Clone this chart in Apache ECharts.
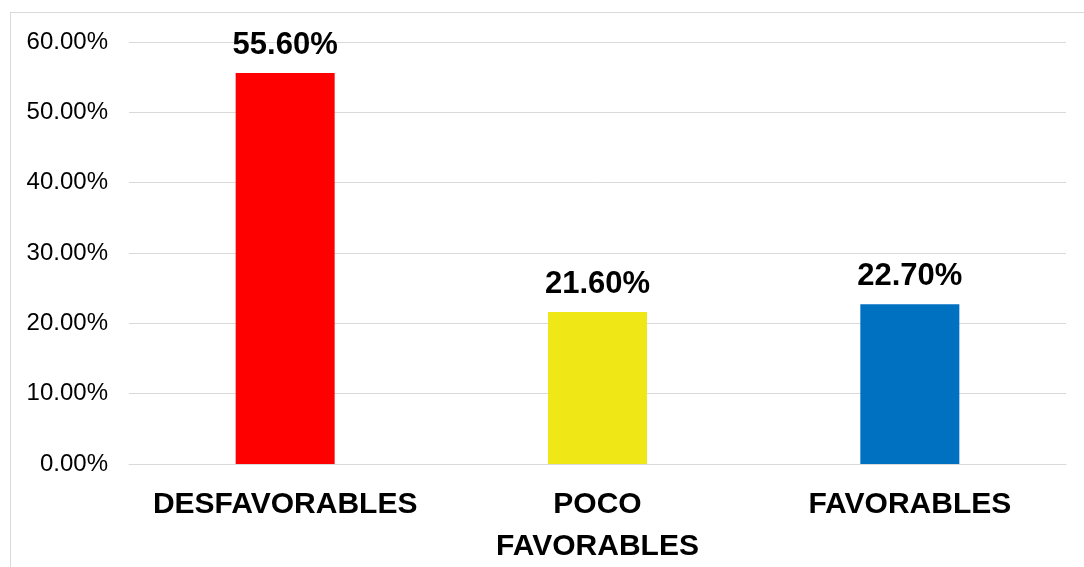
<!DOCTYPE html>
<html>
<head>
<meta charset="utf-8">
<script src="https://cdn.jsdelivr.net/npm/echarts@6/dist/echarts.min.js"></script>
<style>
  html, body { margin: 0; padding: 0; background: #fff; }
  .frame {
    position: absolute;
    left: 10px;
    top: 12px;
    width: 1100px;
    height: 600px;
    border-left: 1px solid #d9d9d9;
    border-top: 1px solid #d9d9d9;
  }
  #main { position: absolute; left: 0; top: 0; width: 1084px; height: 567px; }
</style>
</head>
<body>
<div class="frame"></div>
<div id="main"></div>
<script>
const categories = ['DESFAVORABLES', 'POCO\nFAVORABLES', 'FAVORABLES']
const values = [55.6, 21.6, 22.7]
const barColors = ['#ff0000', '#f0e816', '#0070c0']
const yTicks = [0, 10, 20, 30, 40, 50, 60]

const chart = echarts.init(document.getElementById('main'))

const fmt = v => v.toFixed(2) + '%'

chart.setOption({
  animation: false,
  grid: {
    left: 129,
    right: 18,
    top: 42,
    bottom: 103,
    outerBoundsMode: 'none',
    containLabel: false
  },
  xAxis: {
    type: 'category',
    data: categories,
    axisTick: { show: false },
    axisLine: { lineStyle: { color: '#d9d9d9', width: 1 } },
    axisLabel: {
      margin: 20,
      fontFamily: 'Liberation Sans, Arial, sans-serif',
      fontWeight: 'bold',
      fontSize: 30,
      lineHeight: 42,
      color: '#000',
      interval: 0
    }
  },
  yAxis: {
    type: 'value',
    min: yTicks[0],
    max: yTicks[yTicks.length - 1],
    interval: 10,
    axisLine: { show: false },
    axisTick: { show: false },
    splitLine: { lineStyle: { color: '#d9d9d9', width: 1 } },
    axisLabel: {
      margin: 21,
      formatter: v => fmt(v),
      fontFamily: 'Liberation Sans, Arial, sans-serif',
      fontSize: 24,
      color: '#000'
    }
  },
  series: [{
    type: 'bar',
    barWidth: 99,
    data: values.map((v, i) => ({ value: v, itemStyle: { color: barColors[i] } })),
    label: {
      show: true,
      position: 'top',
      distance: 12,
      formatter: p => fmt(p.value),
      fontFamily: 'Liberation Sans, Arial, sans-serif',
      fontWeight: 'bold',
      fontSize: 31,
      color: '#000'
    }
  }]
})
</script>
</body>
</html>
